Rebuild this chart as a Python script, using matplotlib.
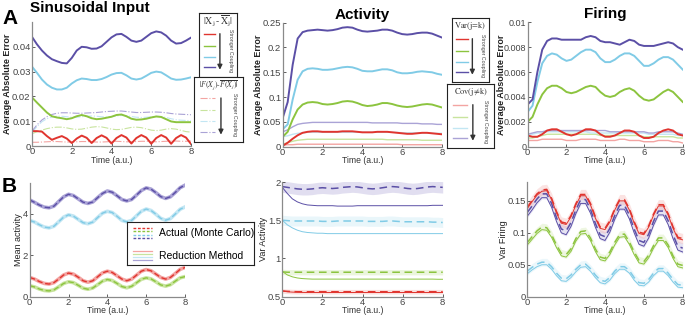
import numpy as np
import matplotlib
matplotlib.use("Agg")
import matplotlib.pyplot as plt

plt.rcParams['font.family'] = ['Liberation Sans', 'DejaVu Sans']
plt.rcParams['mathtext.fontset'] = 'stix'

W, H = 685, 316
RED, GREEN, BLUE, PURPLE = '#e0352f', '#8cc43f', '#80cbe6', '#5b4fa6'
LRED, LGREEN, LBLUE, LPURPLE = '#f3a4a2', '#c8e49e', '#c2e6f3', '#aaa3d6'

# time grid (a.u.), sampled every 0.25
time = np.arange(0, 8.01, 0.25)

# ---- A: sinusoidal input, average absolute error in mean |X_j - mean X_j|
a_mean_red = [.006, .006, .0058, .0040, .0025, .0033, .0040, .0030, .0012, .0030, .0042, .0033, .0012,
              .0032, .0043, .0033, .0010, .0032, .0044, .0034, .0010, .0032, .0044, .0034, .0009, .0032,
              .0044, .0034, .0009, .0032, .0044, .0034, .0008]
a_mean_green = [.0196, .0175, .0155, .0135, .0120, .0115, .0112, .0108, .0112, .0120, .0125, .0120, .0112,
                .0108, .0110, .0114, .0118, .0125, .0127, .0120, .0110, .0106, .0107, .0110, .0115, .0119,
                .0117, .0108, .0099, .0096, .0096, .0096, .0096]
a_mean_blue = [.032, .0295, .0268, .0248, .0235, .0228, .0228, .0235, .0252, .0265, .0272, .0270, .0266,
               .0266, .0270, .0278, .0288, .0294, .0295, .0285, .0272, .0268, .0272, .0283, .0295, .0300,
               .0297, .0285, .0272, .0267, .0268, .0272, .0277]
a_mean_purple = [.044, .041, .0385, .0365, .035, .0342, .0335, .0333, .0355, .0385, .0400, .0398, .0392,
                 .0393, .0402, .0420, .0438, .0450, .0452, .0440, .0425, .0420, .0425, .0440, .0455, .0462,
                 .0458, .0445, .0425, .0413, .0415, .0425, .0437]
# |F(X_j) - mean F(X_j)|
a_fire_red = [.0015, .0015, .0016, .0017, .0018, .0018, .0017, .0016, .0016, .0017, .0018, .0018, .0017,
              .0016, .0016, .0017, .0018, .0019, .0018, .0017, .0017, .0018, .0019, .0019, .0018, .0017,
              .0018, .0019, .0020, .0020, .0019, .0019, .0020]
a_fire_green = [.0050, .0057, .0064, .0070, .0074, .0076, .0076, .0073, .0069, .0067, .0068, .0072, .0076,
                .0078, .0077, .0073, .0068, .0066, .0067, .0071, .0075, .0076, .0074, .0069, .0064, .0062,
                .0064, .0068, .0070, .0068, .0063, .0058, .0056]
a_fire_blue = [.0055, .0078, .0098, .0110, .0117, .0120, .0120, .0118, .0116, .0116, .0118, .0120, .0121,
               .0120, .0118, .0117, .0118, .0121, .0123, .0122, .0119, .0116, .0115, .0116, .0118, .0120,
               .0119, .0115, .0110, .0106, .0104, .0103, .0102]
a_fire_purple = [.006, .0085, .0105, .0118, .0127, .0132, .0134, .0134, .0133, .0132, .0132, .0133, .0134,
                 .0135, .0137, .0139, .0140, .0141, .0141, .0139, .0137, .0135, .0135, .0136, .0137, .0137,
                 .0136, .0134, .0131, .0129, .0128, .0127, .0126]

# ---- Activity: Var (j=k) and Cov (j!=k) errors
act_var_red = [.002, .008, .016, .023, .028, .030, .031, .031, .030, .030, .030, .030, .031, .031, .031,
               .030, .029, .029, .029, .030, .030, .030, .029, .028, .027, .026, .026, .027, .028, .028,
               .027, .026, .025]
act_var_green = [.020, .030, .055, .075, .085, .089, .090, .089, .086, .085, .086, .088, .091, .092, .091,
                 .088, .084, .082, .083, .085, .088, .088, .086, .083, .081, .080, .081, .083, .085, .086,
                 .085, .082, .079]
act_var_blue = [.035, .045, .095, .135, .152, .157, .158, .157, .155, .155, .156, .158, .160, .161, .160,
                .157, .153, .152, .152, .154, .156, .156, .154, .150, .148, .148, .149, .151, .152, .151,
                .150, .147, .145]
act_var_purple = [.058, .090, .165, .218, .231, .234, .235, .236, .235, .234, .235, .237, .240, .241, .240,
                  .236, .233, .232, .233, .234, .236, .236, .234, .230, .227, .226, .227, .229, .230, .230,
                  .228, .224, .220]
act_cov_red = [.003, .004, .004, .005, .005, .005, .005, .005, .005, .005, .005, .005, .005, .005, .005,
               .005, .005, .005, .005, .005, .005, .005, .005, .005, .004, .004, .004, .004, .004, .004,
               .004, .004, .004]
act_cov_green = [.005, .008, .011, .013, .014, .015, .015, .015, .015, .015, .015, .015, .015, .015, .015,
                 .015, .015, .015, .015, .015, .015, .014, .014, .014, .014, .014, .014, .014, .013, .013,
                 .013, .013, .013]
act_cov_blue = [.020, .022, .025, .027, .028, .029, .029, .029, .029, .029, .029, .029, .029, .029, .029,
                .029, .029, .029, .029, .029, .029, .029, .029, .029, .028, .028, .028, .028, .028, .028,
                .027, .027, .027]
act_cov_purple = [.030, .034, .040, .045, .047, .048, .049, .049, .049, .049, .049, .049, .049, .049, .049,
                  .049, .049, .049, .048, .048, .048, .048, .048, .048, .047, .047, .047, .047, .046, .046,
                  .046, .045, .045]

# ---- Firing: Var (j=k) and Cov (j!=k) errors
fir_var_red = [.0009, .0008, .0008, .0010, .0013, .0014, .0014, .0012, .0010, .0009, .0010, .0012, .0014,
               .0014, .0013, .0010, .0008, .0008, .0009, .0011, .0013, .0013, .0012, .0009, .0007, .0007,
               .0008, .0011, .0013, .0014, .0013, .0010, .0009]
fir_var_green = [.0020, .0024, .0034, .0042, .0047, .0049, .0049, .0047, .0044, .0043, .0044, .0046, .0048,
                 .0049, .0048, .0044, .0041, .0040, .0041, .0044, .0046, .0047, .0045, .0041, .0038, .0037,
                 .0038, .0041, .0044, .0046, .0044, .0040, .0036]
fir_var_blue = [.0028, .0033, .0052, .0067, .0073, .0075, .0074, .0071, .0069, .0070, .0073, .0076, .0078,
                .0078, .0076, .0071, .0068, .0068, .0070, .0073, .0075, .0075, .0073, .0069, .0065, .0065,
                .0067, .0070, .0072, .0072, .0070, .0066, .0062]
fir_var_purple = [.0034, .0038, .0060, .0078, .0085, .0087, .0087, .0086, .0086, .0086, .0086, .0086, .0088,
                  .0089, .0088, .0085, .0084, .0084, .0083, .0082, .0084, .0086, .0085, .0082, .0081, .0081,
                  .0081, .0082, .0083, .0084, .0083, .0080, .0078]
fir_cov_red = [.0005, .0005, .0005, .0006, .0006, .0006, .0006, .0006, .0005, .0005, .0005, .0006, .0006,
               .0006, .0006, .0005, .0005, .0005, .0005, .0006, .0006, .0005, .0005, .0005, .0004, .0004,
               .0004, .0005, .0005, .0005, .0004, .0004, .0003]
fir_cov_green = [.0007, .0007, .0008, .0009, .0010, .0010, .0010, .0010, .0010, .0010, .0010, .0010, .0010,
                 .0010, .0010, .0009, .0009, .0009, .0009, .0009, .0009, .0009, .0009, .0009, .0008, .0008,
                 .0008, .0008, .0008, .0008, .0008, .0007, .0007]
fir_cov_blue = [.0010, .0010, .0011, .0011, .0012, .0012, .0012, .0012, .0012, .0012, .0012, .0012, .0012,
                .0011, .0011, .0011, .0011, .0011, .0011, .0011, .0011, .0011, .0011, .0011, .0011, .0010,
                .0010, .0010, .0010, .0010, .0010, .0009, .0009]
fir_cov_purple = [.0010, .0011, .0012, .0012, .0013, .0013, .0013, .0013, .0013, .0013, .0013, .0013, .0013,
                  .0013, .0013, .0013, .0013, .0012, .0012, .0012, .0012, .0012, .0012, .0012, .0012, .0011,
                  .0011, .0012, .0012, .0012, .0012, .0011, .0010]

# ---- B: mean activity (Monte Carlo and reduction coincide)
mean_red = [0.93, 0.85, 0.73, 0.64, 0.61, 0.68, 0.86, 1.05, 1.14, 1.09, 0.94, 0.77, 0.70, 0.77, 0.96,
            1.15, 1.23, 1.17, 1.01, 0.85, 0.77, 0.85, 1.04, 1.23, 1.31, 1.25, 1.09, 0.93, 0.85, 0.93,
            1.12, 1.32, 1.41]
mean_green = [0.53, 0.47, 0.37, 0.30, 0.28, 0.33, 0.48, 0.64, 0.72, 0.68, 0.55, 0.41, 0.36, 0.42, 0.58,
              0.75, 0.83, 0.78, 0.64, 0.49, 0.43, 0.50, 0.67, 0.84, 0.91, 0.86, 0.72, 0.57, 0.51, 0.58,
              0.75, 0.91, 0.97]
mean_blue = [3.68, 3.60, 3.47, 3.36, 3.32, 3.40, 3.62, 3.84, 3.95, 3.89, 3.73, 3.57, 3.52, 3.60, 3.82,
             4.03, 4.12, 4.06, 3.88, 3.68, 3.61, 3.68, 3.90, 4.12, 4.23, 4.16, 3.98, 3.78, 3.69, 3.77,
             3.99, 4.22, 4.33]
mean_purple = [4.67, 4.55, 4.42, 4.32, 4.29, 4.37, 4.60, 4.82, 4.94, 4.88, 4.72, 4.56, 4.50, 4.57, 4.78,
               4.98, 5.10, 5.04, 4.87, 4.69, 4.62, 4.69, 4.90, 5.12, 5.25, 5.19, 5.02, 4.83, 4.74, 4.82,
               5.03, 5.26, 5.38]

# ---- B: variance of activity
var_act_mc_red = [0.575, 0.57, 0.567, 0.565, 0.565, 0.565, 0.565, 0.565, 0.565, 0.565, 0.565, 0.565, 0.565,
                  0.565, 0.565, 0.565, 0.565, 0.565, 0.565, 0.565, 0.565, 0.565, 0.565, 0.565, 0.565, 0.565,
                  0.565, 0.565, 0.565, 0.565, 0.565, 0.565, 0.565]
var_act_rm_red = [0.575, 0.565, 0.56, 0.558, 0.556, 0.555, 0.555, 0.555, 0.555, 0.555, 0.555, 0.555, 0.555,
                  0.555, 0.555, 0.555, 0.555, 0.555, 0.555, 0.555, 0.555, 0.555, 0.555, 0.555, 0.555, 0.555,
                  0.555, 0.555, 0.555, 0.555, 0.555, 0.555, 0.555]
var_act_mc_green = [0.825, 0.82, 0.82, 0.82, 0.82, 0.82, 0.82, 0.82, 0.82, 0.82, 0.82, 0.82, 0.82, 0.82,
                    0.82, 0.82, 0.82, 0.82, 0.82, 0.82, 0.82, 0.82, 0.82, 0.82, 0.82, 0.82, 0.82, 0.82,
                    0.82, 0.82, 0.82, 0.82, 0.82]
var_act_rm_green = [0.83, 0.785, 0.76, 0.745, 0.737, 0.733, 0.73, 0.73, 0.73, 0.73, 0.73, 0.73, 0.73, 0.73,
                    0.73, 0.73, 0.73, 0.73, 0.73, 0.73, 0.73, 0.73, 0.73, 0.73, 0.73, 0.73, 0.73, 0.73,
                    0.73, 0.73, 0.73, 0.728, 0.728]
var_act_mc_blue = [1.50, 1.495, 1.49, 1.49, 1.49, 1.49, 1.49, 1.49, 1.485, 1.485, 1.485, 1.49, 1.49, 1.49,
                   1.49, 1.49, 1.49, 1.485, 1.485, 1.485, 1.485, 1.49, 1.49, 1.485, 1.48, 1.48, 1.48, 1.48,
                   1.48, 1.48, 1.475, 1.475, 1.47]
var_act_rm_blue = [1.50, 1.44, 1.40, 1.37, 1.35, 1.34, 1.335, 1.33, 1.33, 1.325, 1.325, 1.325, 1.325, 1.325,
                   1.325, 1.325, 1.325, 1.325, 1.325, 1.325, 1.325, 1.325, 1.325, 1.325, 1.325, 1.325, 1.325,
                   1.325, 1.325, 1.325, 1.325, 1.325, 1.325]
var_act_mc_purple = [1.94, 1.93, 1.92, 1.91, 1.905, 1.905, 1.91, 1.92, 1.925, 1.92, 1.915, 1.92, 1.93, 1.935,
                     1.94, 1.935, 1.925, 1.915, 1.91, 1.915, 1.925, 1.935, 1.94, 1.935, 1.925, 1.915, 1.91,
                     1.915, 1.925, 1.935, 1.94, 1.935, 1.93]
var_act_rm_purple = [1.93, 1.85, 1.78, 1.74, 1.715, 1.70, 1.695, 1.69, 1.69, 1.69, 1.69, 1.685, 1.685, 1.685,
                     1.685, 1.69, 1.69, 1.69, 1.69, 1.69, 1.69, 1.69, 1.69, 1.69, 1.69, 1.69, 1.69, 1.69,
                     1.69, 1.69, 1.695, 1.695, 1.695]
var_act_band = [0.03, 0.035, 0.065, 0.075]  # red, green, blue, purple half-widths

# ---- B: variance of firing
var_fir_mc_red = [0.140, 0.151, 0.161, 0.167, 0.168, 0.154, 0.1335, 0.117, 0.115, 0.127, 0.1455, 0.160,
                  0.160, 0.146, 0.1255, 0.109, 0.107, 0.119, 0.1375, 0.152, 0.152, 0.138, 0.1175, 0.101,
                  0.099, 0.111, 0.1295, 0.144, 0.144, 0.130, 0.1095, 0.093, 0.091]
var_fir_rm_red = [0.138, 0.149, 0.159, 0.165, 0.166, 0.152, 0.1315, 0.115, 0.113, 0.125, 0.1435, 0.158,
                  0.158, 0.144, 0.1235, 0.107, 0.105, 0.117, 0.1355, 0.150, 0.150, 0.136, 0.1155, 0.099,
                  0.097, 0.109, 0.1275, 0.142, 0.142, 0.128, 0.1075, 0.091, 0.089]
var_fir_mc_purple = [0.132, 0.142, 0.153, 0.161, 0.161, 0.146, 0.124, 0.106, 0.103, 0.116, 0.136, 0.152,
                     0.152, 0.137, 0.115, 0.097, 0.094, 0.107, 0.127, 0.143, 0.143, 0.128, 0.106, 0.088,
                     0.085, 0.098, 0.118, 0.134, 0.134, 0.119, 0.097, 0.079, 0.076]
var_fir_rm_purple = [0.126, 0.136, 0.147, 0.155, 0.155, 0.140, 0.118, 0.100, 0.097, 0.110, 0.130, 0.146,
                     0.146, 0.131, 0.109, 0.091, 0.088, 0.101, 0.121, 0.137, 0.137, 0.122, 0.100, 0.082,
                     0.079, 0.092, 0.112, 0.128, 0.128, 0.113, 0.091, 0.073, 0.070]
var_fir_mc_green = [0.085, 0.094, 0.103, 0.109, 0.108, 0.097, 0.081, 0.068, 0.066, 0.075, 0.091, 0.102,
                    0.103, 0.092, 0.075, 0.062, 0.060, 0.070, 0.085, 0.097, 0.098, 0.086, 0.070, 0.057,
                    0.055, 0.065, 0.080, 0.092, 0.092, 0.081, 0.064, 0.051, 0.049]
var_fir_rm_green = [0.081, 0.090, 0.099, 0.105, 0.104, 0.093, 0.077, 0.064, 0.062, 0.071, 0.087, 0.098,
                    0.099, 0.088, 0.071, 0.058, 0.056, 0.066, 0.081, 0.093, 0.094, 0.082, 0.066, 0.053,
                    0.051, 0.061, 0.076, 0.088, 0.088, 0.077, 0.060, 0.047, 0.045]
var_fir_mc_blue = [0.040, 0.046, 0.051, 0.054, 0.054, 0.047, 0.037, 0.029, 0.028, 0.034, 0.043, 0.050,
                   0.051, 0.044, 0.034, 0.026, 0.024, 0.030, 0.040, 0.047, 0.047, 0.041, 0.030, 0.022,
                   0.021, 0.027, 0.037, 0.044, 0.044, 0.037, 0.027, 0.019, 0.018]
var_fir_rm_blue = [0.036, 0.042, 0.047, 0.050, 0.050, 0.043, 0.033, 0.025, 0.024, 0.030, 0.039, 0.046,
                   0.047, 0.040, 0.030, 0.022, 0.020, 0.026, 0.036, 0.043, 0.043, 0.037, 0.026, 0.018,
                   0.017, 0.023, 0.033, 0.040, 0.040, 0.033, 0.023, 0.015, 0.014]
var_fir_band = [0.008, 0.006, 0.006, 0.008]  # red, green, blue, purple half-widths

xticks = [0, 2, 4, 6, 8]


def px_axes(fig, x0, y0, x1, y1):
    # axes from pixel box (left, top, right, bottom)
    return fig.add_axes([x0 / W, 1 - y1 / H, (x1 - x0) / W, (y1 - y0) / H])


def style(ax, ylim, yticks, ylabel, bold=False, lpad=0):
    ax.set_xlim(0, 8)
    ax.set_ylim(*ylim)
    ax.set_xticks(xticks)
    ax.set_yticks(yticks)
    ax.set_yticklabels(['%g' % v for v in yticks])
    for s in ['top', 'right']:
        ax.spines[s].set_visible(False)
    for s in ['left', 'bottom']:
        ax.spines[s].set_color('#8a8a8a')
        ax.spines[s].set_linewidth(0.9)
    ax.tick_params(direction='in', length=2, width=0.6, labelsize=6.8, colors='#444', pad=1)
    ax.set_xlabel('Time (a.u.)', fontsize=6.2, color='#333', labelpad=-0.5)
    ax.set_ylabel(ylabel, fontsize=6.5, color='#222', fontweight='bold' if bold else 'normal', labelpad=lpad)
    ax.patch.set_alpha(0)


def legend_box(fig, box, header, colors, ls, lw, fs):
    ax = px_axes(fig, *box)
    ax.set_xlim(0, 1)
    ax.set_ylim(0, 1)
    ax.set_xticks([])
    ax.set_yticks([])
    for s in ax.spines.values():
        s.set_color('#222')
        s.set_linewidth(0.8)
    ax.text(0.5, 0.87, header, ha='center', va='center', fontsize=fs, color='#333')
    for c, y in zip(colors, [0.67, 0.49, 0.32, 0.15]):
        ax.plot([0.12, 0.42], [y, y], color=c, ls=ls, lw=lw)
    ax.annotate('', xy=(0.55, 0.07), xytext=(0.55, 0.72),
                arrowprops=dict(arrowstyle='-|>', color='#333', lw=1.0, mutation_scale=7))
    ax.text(0.82, 0.42, 'Stronger Coupling', rotation=-90, fontsize=3.8, ha='center', va='center',
            color='#444')


fig = plt.figure(figsize=(W / 100, H / 100), dpi=100)

# ---------------- A1
ax = px_axes(fig, 32, 22, 191, 146)
for vals, c in zip([a_fire_red, a_fire_green, a_fire_blue, a_fire_purple], [LRED, LGREEN, LBLUE, LPURPLE]):
    ax.plot(time, vals, color=c, ls='-.', lw=0.8)
for vals, c in zip([a_mean_red, a_mean_green, a_mean_blue, a_mean_purple], [RED, GREEN, BLUE, PURPLE]):
    ax.plot(time, vals, color=c, lw=1.4)
style(ax, (0, 0.05), [0, 0.01, 0.02, 0.03, 0.04], 'Average Absolute Error', bold=True)

# ---------------- A2
ax = px_axes(fig, 282.7, 22.7, 442, 146.7)
for vals, c in zip([act_cov_red, act_cov_green, act_cov_blue, act_cov_purple], [LRED, LGREEN, LBLUE, LPURPLE]):
    ax.plot(time, vals, color=c, lw=1.0)
for vals, c in zip([act_var_red, act_var_green, act_var_blue, act_var_purple], [RED, GREEN, BLUE, PURPLE]):
    ax.plot(time, vals, color=c, lw=1.4)
style(ax, (0, 0.25), [0, 0.05, 0.1, 0.15, 0.2, 0.25], 'Average Absolute Error', bold=True)
ax.set_title('Activity', fontsize=11, fontweight='bold', pad=3)

# ---------------- A3
ax = px_axes(fig, 527.7, 22.3, 682.7, 146.7)
for vals, c in zip([fir_cov_red, fir_cov_green, fir_cov_blue, fir_cov_purple], [LRED, LGREEN, LBLUE, LPURPLE]):
    ax.plot(time, vals, color=c, lw=1.0)
for vals, c in zip([fir_var_red, fir_var_green, fir_var_blue, fir_var_purple], [RED, GREEN, BLUE, PURPLE]):
    ax.plot(time, vals, color=c, lw=1.4)
style(ax, (0, 0.01), [0, 0.002, 0.004, 0.006, 0.008, 0.01], 'Average Absolute Error', bold=True, lpad=-1.5)
ax.tick_params(axis='y', labelsize=6.5)
ax.set_title('Firing', fontsize=11, fontweight='bold', pad=3)

# ---------------- B1
ax = px_axes(fig, 29.7, 182.7, 185, 296.7)
for vals, c, lc in zip([mean_red, mean_green, mean_blue, mean_purple], [RED, GREEN, BLUE, PURPLE],
                       [LRED, LGREEN, LBLUE, LPURPLE]):
    ax.plot(time, vals, color=lc, lw=2.6)
    ax.plot(time, vals, color=c, lw=1.0, ls=(0, (4, 2)))
style(ax, (0, 5.5), [0, 2, 4], 'Mean activity')

# ---------------- B2
ax = px_axes(fig, 282.3, 182, 442.7, 296.7)
mc = [var_act_mc_red, var_act_mc_green, var_act_mc_blue, var_act_mc_purple]
rm = [var_act_rm_red, var_act_rm_green, var_act_rm_blue, var_act_rm_purple]
for m, r, hw, c, lc in zip(mc, rm, var_act_band, [RED, GREEN, BLUE, PURPLE], [LRED, LGREEN, LBLUE, LPURPLE]):
    m = np.array(m)
    ax.fill_between(time, m - hw, m + hw, color=lc, alpha=0.35, lw=0)
    ax.plot(time, r, color=c, lw=0.7)
    ax.plot(time, m, color=c, lw=1.1, ls=(0, (5, 3)))
style(ax, (0.5, 2), [0.5, 1, 1.5, 2], 'Var Activity')

# ---------------- B3
ax = px_axes(fig, 527.3, 181.7, 682.7, 296.7)
mc = [var_fir_mc_red, var_fir_mc_green, var_fir_mc_blue, var_fir_mc_purple]
rm = [var_fir_rm_red, var_fir_rm_green, var_fir_rm_blue, var_fir_rm_purple]
for m, r, hw, c, lc in zip(mc[::-1], rm[::-1], var_fir_band[::-1], [PURPLE, BLUE, GREEN, RED],
                           [LPURPLE, LBLUE, LGREEN, LRED]):
    m = np.array(m)
    ax.fill_between(time, m - hw, m + hw, color=lc, alpha=0.3, lw=0)
    ax.plot(time, r, color=c, lw=0.7)
    ax.plot(time, m, color=c, lw=1.1, ls=(0, (5, 3)))
style(ax, (0, 0.18), [0, 0.05, 0.1, 0.15], 'Var Firing')

# ---------------- legend boxes
legend_box(fig, (199, 13, 237, 77), r'$|\mathrm{X}_\mathrm{j}\,\text{-}\,\overline{\mathrm{X}}_\mathrm{j}|$',
           [RED, GREEN, BLUE, PURPLE], '-', 1.0, 7)
legend_box(fig, (194, 77, 243, 142), r'$|F(X_j)\text{-}\overline{F(X_j)}|$',
           [LRED, LGREEN, LBLUE, LPURPLE], '-.', 0.8, 5.5)
legend_box(fig, (452, 18, 489, 82), r'$\mathrm{Var(j\!=\!k)}$', [RED, GREEN, BLUE, PURPLE], '-', 1.0, 6)
legend_box(fig, (447, 84, 494, 148), r'$\mathrm{Cov(j\!\neq\!k)}$', [LRED, LGREEN, LBLUE, LPURPLE], '-', 1.0, 6)

# B legend
lax = px_axes(fig, 127, 222, 254, 265)
lax.set_xlim(0, 1)
lax.set_ylim(0, 1)
lax.set_xticks([])
lax.set_yticks([])
for s in lax.spines.values():
    s.set_color('#222')
    s.set_linewidth(0.8)
for i, c in enumerate([RED, GREEN, BLUE, PURPLE]):
    lax.plot([0.05, 0.2], [0.86 - i * 0.08] * 2, color=c, lw=1.0, ls=(0, (2, 1.2)))
for i, c in enumerate([LRED, LGREEN, LBLUE, LPURPLE]):
    lax.plot([0.05, 0.2], [0.32 - i * 0.065] * 2, color=c, lw=0.9)
lax.text(0.25, 0.74, 'Actual (Monte Carlo)', fontsize=7.5, va='center')
lax.text(0.25, 0.22, 'Reduction Method', fontsize=7.5, va='center')

# panel titles / letters
fig.text(30 / W, 1 - 1 / H, 'Sinusoidal Input', fontsize=11, fontweight='bold', va='top')
fig.text(2 / W, 1 - 9 / H, 'A', fontsize=15, fontweight='bold', va='top')
fig.text(2 / W, 1 - 177 / H, 'B', fontsize=15, fontweight='bold', va='top')

fig.savefig('out.png', dpi=100)
